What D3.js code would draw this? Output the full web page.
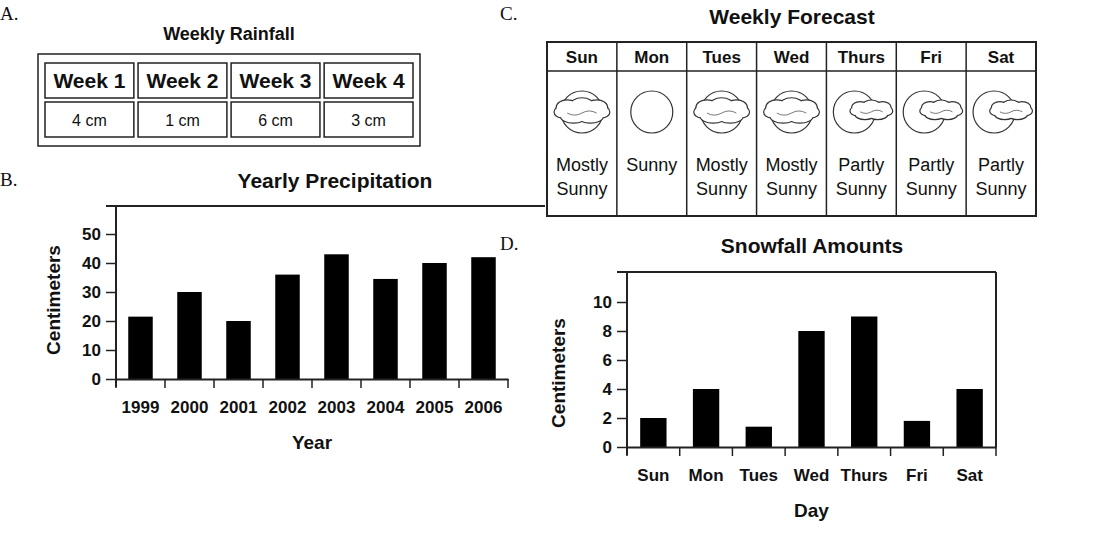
<!DOCTYPE html>
<html>
<head>
<meta charset="utf-8">
<script src="https://cdn.jsdelivr.net/npm/d3@7"></script>
<style>
  body { margin: 0; background: #fff; }
  text { font-family: "Liberation Sans", Arial, sans-serif; fill: #111; }
  .letter { font-family: "Liberation Serif", "Times New Roman", serif; font-size: 19px; }
</style>
</head>
<body>
<svg id="chart" width="1101" height="539"></svg>
<script>
// ---- data ----
const weeks = ["Week 1", "Week 2", "Week 3", "Week 4"];
const rainfall = ["4 cm", "1 cm", "6 cm", "3 cm"];

const forecastDays = ["Sun", "Mon", "Tues", "Wed", "Thurs", "Fri", "Sat"];
const forecastSky = ["mostly", "sunny", "mostly", "mostly", "partly", "partly", "partly"];
const forecastText = [["Mostly", "Sunny"], ["Sunny"], ["Mostly", "Sunny"], ["Mostly", "Sunny"],
  ["Partly", "Sunny"], ["Partly", "Sunny"], ["Partly", "Sunny"]];

const years = ["1999", "2000", "2001", "2002", "2003", "2004", "2005", "2006"];
const precipitation = [21.5, 30, 20, 36, 43, 34.5, 40, 42];
const precipTicks = [0, 10, 20, 30, 40, 50];

const snowDays = ["Sun", "Mon", "Tues", "Wed", "Thurs", "Fri", "Sat"];
const snowfall = [2, 4, 1.4, 8, 9, 1.8, 4];
const snowTicks = [0, 2, 4, 6, 8, 10];

const svg = d3.select("#chart");

// panel letters
[["A.", 0, 20], ["B.", 0, 186], ["C.", 500, 20], ["D.", 500, 250]].forEach(([t, x, y]) =>
  svg.append("text").attr("class", "letter").attr("x", x).attr("y", y).text(t));

// ---- A: weekly rainfall table ----
(function () {
  const g = svg.append("g");
  g.append("text").attr("x", 229).attr("y", 40).attr("text-anchor", "middle")
    .style("font-weight", "bold").style("font-size", "18px").text("Weekly Rainfall");
  g.append("rect").attr("x", 38).attr("y", 54).attr("width", 382).attr("height", 92)
    .attr("fill", "none").attr("stroke", "#222").attr("stroke-width", 1.5);
  const x = d3.scaleBand().domain(weeks).range([45, 413]).paddingInner(0.045);
  weeks.forEach((w, i) => {
    const x0 = x(w);
    g.append("rect").attr("x", x0).attr("y", 63).attr("width", x.bandwidth()).attr("height", 35)
      .attr("fill", "none").attr("stroke", "#222").attr("stroke-width", 1.5);
    g.append("rect").attr("x", x0).attr("y", 102).attr("width", x.bandwidth()).attr("height", 35)
      .attr("fill", "none").attr("stroke", "#222").attr("stroke-width", 1.5);
    g.append("text").attr("x", x0 + x.bandwidth() / 2).attr("y", 88).attr("text-anchor", "middle")
      .style("font-weight", "bold").style("font-size", "21px").text(w);
    g.append("text").attr("x", x0 + x.bandwidth() / 2).attr("y", 126).attr("text-anchor", "middle")
      .style("font-size", "16px").text(rainfall[i]);
  });
})();

// ---- C: weekly forecast ----
// cloud made of bumps: stroked pass then white fill pass hides inner strokes
const cloudBumps = [
  [-14, -4, 10, 7], [0, -6, 11, 7], [14, -4, 10, 7],
  [-8, 4, 12, 6], [8, 4, 12, 6], [-19, 0, 7, 5], [19, 0, 7, 5]
];
function drawCloud(sel, s) {
  const c = sel.append("g").attr("transform", `scale(${s})`);
  c.selectAll(".o").data(cloudBumps).join("ellipse")
    .attr("cx", d => d[0]).attr("cy", d => d[1]).attr("rx", d => d[2]).attr("ry", d => d[3])
    .attr("fill", "#fff").attr("stroke", "#333").attr("stroke-width", 2.4 / s);
  c.selectAll(".i").data(cloudBumps).join("ellipse")
    .attr("cx", d => d[0]).attr("cy", d => d[1]).attr("rx", d => d[2]).attr("ry", d => d[3])
    .attr("fill", "#fff").attr("stroke", "none");
  c.append("path").attr("d", "M-14,1 Q-7,5 0,1 Q7,-3 14,1").attr("fill", "none")
    .attr("stroke", "#555").attr("stroke-width", 0.8 / s);
}

(function () {
  const g = svg.append("g");
  g.append("text").attr("x", 792).attr("y", 24).attr("text-anchor", "middle")
    .style("font-weight", "bold").style("font-size", "21px").text("Weekly Forecast");
  const x = d3.scaleBand().domain(forecastDays).range([547, 1036]);
  g.append("rect").attr("x", 547).attr("y", 42).attr("width", 489).attr("height", 174)
    .attr("fill", "none").attr("stroke", "#222").attr("stroke-width", 2);
  g.append("line").attr("x1", 547).attr("x2", 1036).attr("y1", 71).attr("y2", 71)
    .attr("stroke", "#222").attr("stroke-width", 1.5);
  forecastDays.forEach((d, i) => {
    const cx = x(d) + x.bandwidth() / 2;
    if (i > 0) g.append("line").attr("x1", x(d)).attr("x2", x(d)).attr("y1", 42).attr("y2", 216)
      .attr("stroke", "#222").attr("stroke-width", 1.5);
    g.append("text").attr("x", cx).attr("y", 63).attr("text-anchor", "middle")
      .style("font-weight", "bold").style("font-size", "17px").text(d);
    const icon = g.append("g").attr("transform", `translate(${cx},112)`);
    const sky = forecastSky[i];
    if (sky === "sunny") {
      icon.append("circle").attr("r", 21).attr("fill", "#fff").attr("stroke", "#333").attr("stroke-width", 1.2);
    } else if (sky === "mostly") {
      icon.append("circle").attr("r", 21).attr("fill", "#fff").attr("stroke", "#333").attr("stroke-width", 1.2);
      drawCloud(icon, 1.05);
    } else {
      icon.append("circle").attr("cx", -7).attr("r", 21).attr("fill", "#fff").attr("stroke", "#333").attr("stroke-width", 1.2);
      drawCloud(icon.append("g").attr("transform", "translate(10,-1)"), 0.8);
    }
    forecastText[i].forEach((t, j) =>
      g.append("text").attr("x", cx).attr("y", 171 + j * 24).attr("text-anchor", "middle")
        .style("font-size", "18px").text(t));
  });
})();

// ---- bar chart helper ----
function barChart(o) {
  const g = svg.append("g");
  const x = d3.scaleBand().domain(o.cats).range([o.x0, o.x1]).paddingInner(0).paddingOuter(0);
  const y = d3.scaleLinear().domain([0, o.max]).range([o.yBase, o.yBase - o.unitPx * o.max]);
  g.append("text").attr("x", o.titleX).attr("y", o.titleY).attr("text-anchor", "middle")
    .style("font-weight", "bold").style("font-size", "21px").text(o.title);
  // frame
  g.append("line").attr("x1", o.x0 - 10).attr("x2", o.frameRight).attr("y1", o.yTop).attr("y2", o.yTop)
    .attr("stroke", "#222").attr("stroke-width", 2);
  g.append("line").attr("x1", o.x0).attr("x2", o.x0).attr("y1", o.yTop).attr("y2", o.yBase + 8)
    .attr("stroke", "#222").attr("stroke-width", 2);
  if (o.rightBorder) g.append("line").attr("x1", o.x1).attr("x2", o.x1).attr("y1", o.yTop).attr("y2", o.yBase)
    .attr("stroke", "#222").attr("stroke-width", 2);
  g.selectAll(".bar").data(o.values).join("rect")
    .attr("x", (d, i) => x(o.cats[i]) + x.bandwidth() * (1 - o.barFrac) / 2)
    .attr("width", x.bandwidth() * o.barFrac)
    .attr("y", d => y(d)).attr("height", d => y(0) - y(d)).attr("fill", "#000");
  // y axis
  const ya = g.append("g").attr("transform", `translate(${o.x0},0)`)
    .call(d3.axisLeft(y).tickValues(o.ticks).tickSize(10).tickPadding(5));
  ya.attr("font-size", null);
  ya.select(".domain").remove();
  ya.selectAll("line").attr("stroke", "#222").attr("stroke-width", 1.5);
  ya.selectAll("text").style("font-size", "17px").style("font-weight", "bold")
    .style("font-family", "'Liberation Sans', Arial, sans-serif").attr("fill", "#111");
  // x axis
  const xa = g.append("g").attr("transform", `translate(0,${o.yBase})`)
    .call(d3.axisBottom(x).tickSize(0).tickPadding(22));
  xa.attr("font-size", null);
  xa.select(".domain").attr("stroke", "#222").attr("stroke-width", 2);
  xa.selectAll("text").style("font-size", "17px").style("font-weight", "bold")
    .style("font-family", "'Liberation Sans', Arial, sans-serif").attr("fill", "#111");
  g.selectAll(".xt").data(o.cats.concat([null])).join("line")
    .attr("x1", (d, i) => o.x0 + i * x.bandwidth()).attr("x2", (d, i) => o.x0 + i * x.bandwidth())
    .attr("y1", o.yBase).attr("y2", o.yBase + 9).attr("stroke", "#222").attr("stroke-width", 1.5);
  g.append("text").attr("x", (o.x0 + o.x1) / 2).attr("y", o.yBase + 70).attr("text-anchor", "middle")
    .style("font-weight", "bold").style("font-size", "19px").text(o.xLabel);
  g.append("text").attr("transform", `translate(${o.yLabelX},${o.yLabelY}) rotate(-90)`)
    .attr("text-anchor", "middle").style("font-weight", "bold").style("font-size", "19px").text("Centimeters");
}

barChart({
  title: "Yearly Precipitation", titleX: 335, titleY: 188,
  cats: years, values: precipitation, ticks: precipTicks, max: 50, unitPx: 2.9,
  x0: 116, x1: 508, yBase: 379, yTop: 206, frameRight: 545, barFrac: 0.5,
  xLabel: "Year", yLabelX: 60, yLabelY: 300, rightBorder: false
});

barChart({
  title: "Snowfall Amounts", titleX: 812, titleY: 253,
  cats: snowDays, values: snowfall, ticks: snowTicks, max: 10, unitPx: 14.5,
  x0: 627, x1: 996, yBase: 447, yTop: 272, frameRight: 996, barFrac: 0.5,
  xLabel: "Day", yLabelX: 565, yLabelY: 373, rightBorder: true
});
</script>
</body>
</html>
